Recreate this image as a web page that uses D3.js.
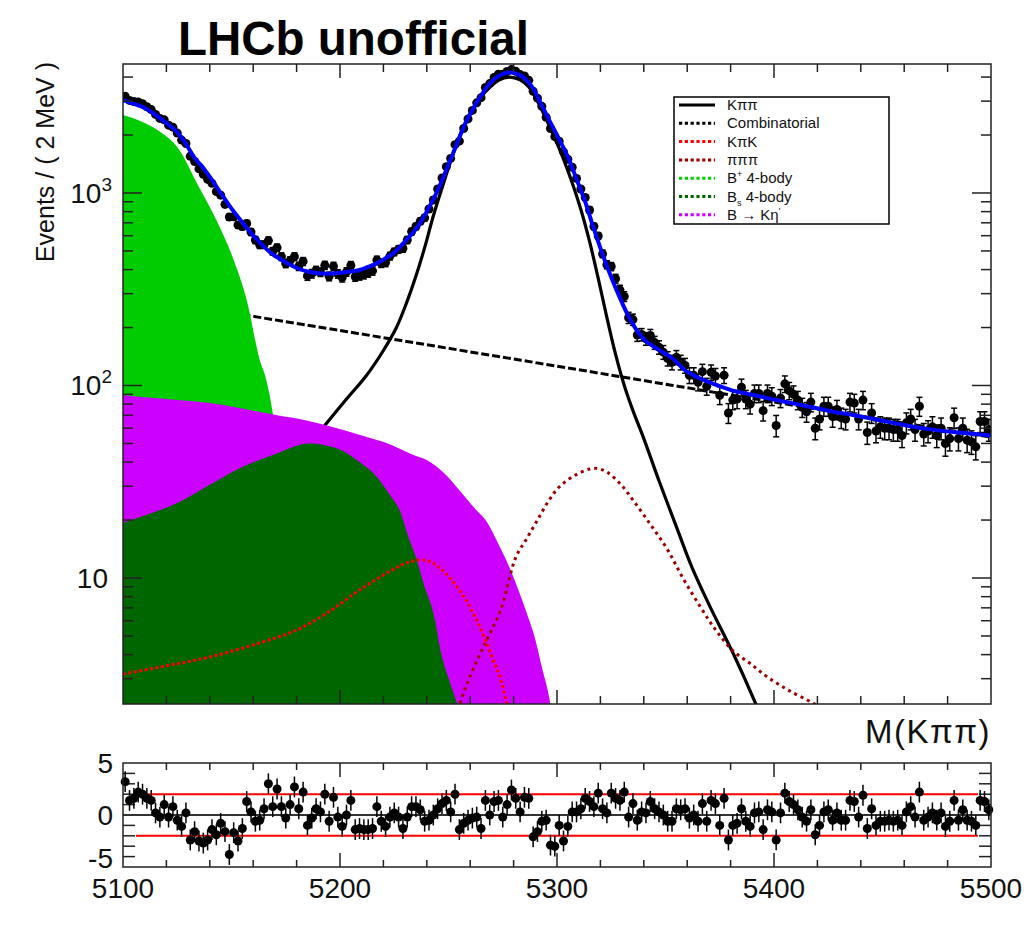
<!DOCTYPE html>
<html>
<head>
<meta charset="utf-8">
<script src="https://cdn.jsdelivr.net/npm/d3@7"></script>
<style>
  body { margin: 0; background: #fff; }
  text { font-family: "Liberation Sans", Arial, Helvetica, sans-serif; }
</style>
</head>
<body>
<div id="my_dataviz"></div>
<script>
// ---- data ----
// histogram: 200 bins of 2 MeV from 5100 to 5500
var binLo = 5100, binWidth = 2;
var counts = [
  3176,3026,2986,2967,2906,2803,2711,2560,2440,2398,
  2250,2197,2047,1882,1808,1552,1458,1335,1250,1176,
  1122,1017,974,872,750,752,682,670,694,627,
  570,538,539,566,498,520,467,430,445,467,
  416,441,371,381,396,388,421,369,416,380,
  364,389,420,367,372,377,385,394,448,431,
  435,470,494,510,515,570,630,670,713,743,
  826,920,1049,1197,1370,1512,1782,1858,2162,2425,
  2684,2939,3126,3533,3700,3981,4140,4137,4275,4376,
  4284,4119,4057,3848,3376,3109,2818,2475,2161,1962,
  1856,1635,1497,1361,1190,1049,948,816,670,598,
  483,424,415,359,314,290,225,220,183,184,
  175,182,167,158,149,138,132,140,132,127,
  113,113,104,118,99,117,112,89,113,72,
  84,85,98,85,80,91,91,74,91,88,
  62,86,102,94,90,84,77,73,82,60,
  67,78,78,69,75,68,67,82,81,67,
  84,57,72,58,61,60,60,59,59,55,
  64,67,59,78,56,58,61,55,60,50,
  53,68,53,60,52,51,48,65,65,59
];
var pulls = [
  3.2,1.4,1.6,2.2,2.0,1.6,1.4,0.2,-0.2,1.0,
  -0.2,0.8,-0.5,-1.1,0.2,-2.4,-1.6,-2.5,-2.7,-2.4,
  -1.4,-1.9,-0.8,-1.6,-3.8,-1.7,-2.5,-1.3,1.3,0.3,
  -0.6,-0.5,0.6,3.0,0.8,2.5,0.8,-0.3,1.0,2.7,
  0.6,2.2,-1.0,-0.3,0.6,0.3,2.0,-0.6,1.7,-0.2,
  -1.1,0.0,1.4,-1.4,-1.3,-1.4,-1.4,-1.3,0.8,-0.6,
  -1.1,-0.2,0.2,-0.2,-1.3,-0.2,0.8,0.8,0.5,-0.6,
  -0.5,0.0,0.6,1.1,1.4,0.3,2.0,-1.4,-0.8,-0.5,
  -0.3,-0.2,-1.3,1.4,0.0,1.3,1.4,-0.2,1.0,2.4,
  1.6,0.3,1.7,1.6,-2.1,-1.6,-0.6,-0.5,-2.9,-3.0,
  -1.0,-2.5,-1.1,0.3,0.3,0.6,1.6,1.3,0.8,2.1,
  0.6,0.2,2.1,1.6,1.4,2.2,-0.2,1.1,-0.5,0.3,
  0.2,1.3,0.6,0.3,0.0,-0.6,-0.6,0.6,0.5,0.6,
  -0.3,0.0,-0.6,1.1,-0.6,1.4,1.1,-1.0,1.6,-2.4,
  -1.0,-0.8,0.6,-0.6,-1.1,0.2,0.3,-1.4,0.5,0.3,
  -2.4,0.2,2.1,1.3,1.0,0.5,-0.2,-0.6,0.5,-1.9,
  -1.0,0.3,0.5,-0.5,0.2,-0.5,-0.5,1.4,1.3,-0.2,
  1.9,-1.3,0.6,-1.0,-0.6,-0.6,-0.5,-0.6,-0.5,-1.0,
  0.3,0.8,-0.2,2.2,-0.5,-0.2,0.2,-0.5,0.2,-1.1,
  -0.6,1.4,-0.5,0.5,-0.5,-0.6,-1.0,1.4,1.3,0.5
];

// fit components, sampled along the mass axis
var totM = [5100,5104,5109,5113,5117,5121,5125,5129,5133,5137,5141,5145,5149,5153,5157,5161,5165,5169,5173,5177,5181,5185,5189,5194,5199,5204,5209,5213,5217,5221,5225,5229,5233,5237,5241,5245,5249,5253,5257,5261,5265,5269,5273,5277,5279,5281,5285,5289,5293,5297,5301,5305,5309,5313,5317,5321,5325,5329,5333,5337,5341,5347,5353,5359,5365,5373,5381,5391,5401,5413,5425,5437,5449,5461,5473,5485,5500];
var totY = [3040,2930,2800,2640,2450,2260,2070,1800,1520,1350,1170,1000,860,750,660,585,525,480,450,424,404,391,384,381,384,390,398,413,431,458,490,545,610,700,840,1030,1320,1700,2200,2700,3200,3700,4050,4210,4220,4180,3950,3500,2850,2320,1900,1540,1180,900,650,480,365,285,228,192,170,153,139,120,110,101,94,89,84,79,74,70,66,62,59,57,55];

var sigM = [5160,5170,5180,5187,5194,5203,5212,5220,5226,5231,5235,5239,5243,5248,5253,5258,5263,5268,5273,5278,5283,5287,5291,5295,5299,5303,5307,5311,5315,5319,5323,5327,5331,5335,5340,5347,5355,5362,5370,5381,5391,5400];
var sigY = [23,30,41,51,64,85,112,152,200,275,370,520,760,1150,1700,2350,2950,3450,3850,4000,3870,3550,3000,2420,1930,1500,1130,820,560,360,225,145,100,74,53,32,18.5,11.5,7.3,4.1,2.3,1.3];

var combM = [5100,5200,5300,5400,5500];
var combY = [295,193,126,82,54];

var bplusM = [5100,5109,5117,5125,5135,5143,5151,5157,5163,5166,5169,5172,5175,5178,5181];
var bplusY = [2540,2337,2080,1734,1074,724,449,278,136,107,72,40,15,4,1];

var ketaM = [5100,5120,5140,5160,5171,5184,5194,5210,5224,5233,5240,5248,5255,5262,5268,5273,5278,5282,5286,5290,5293,5297,5299,5302];
var ketaY = [89,85,81,74,70,66,62,55,49,44,41,35,28.6,23,19.3,15,11.4,8.8,6.6,4.8,3.45,2.2,1.5,1];

var bsM = [5100,5112,5125,5140,5155,5170,5186,5193,5201,5209,5217,5223,5228,5231,5235,5239,5243,5247,5251,5254,5257,5260];
var bsY = [19.3,21.5,24.5,30.5,37.7,44,50,49,46,40,33.5,27,21.8,17,12.8,9,6.6,3.9,2.8,2.2,1.5,1];

var kpkM = [5100,5120,5140,5163,5180,5194,5209,5224,5231,5237,5242,5247,5255,5263,5270,5274,5277,5280];
var kpkY = [3.17,3.5,3.89,4.6,5.37,6.58,8.67,11,12,12.4,12.1,11,8.67,6.05,3.9,3,2.2,1.7];

var pppM = [5250,5255,5260,5266,5274,5281,5286,5291,5296,5301,5308,5315,5319,5323,5329,5335,5343,5351,5358,5366,5373,5381,5389,5397,5407,5418,5422];
var pppY = [1.5,2.2,3.1,4.38,6.8,12.8,16,20,25,29.7,34,36.8,37,35.5,31,25.4,19,14,10,7.1,5.4,4.2,3.6,3.06,2.6,2.24,2.1];

// axis labels
var xTickLabels = ["5100", "5200", "5300", "5400", "5500"];
var yTickVals = [10, 100, 1000];
var yTickLabels = [["10", ""], ["10", "2"], ["10", "3"]];
var pullTickVals = [5, 0, -5];
var pullTickLabels = ["5", "0", "-5"];

var legendLabels = [
  [["Kππ", ""]],
  [["Combinatorial", ""]],
  [["KπK", ""]],
  [["πππ", ""]],
  [["B", ""], ["+", "sup"], [" 4-body", ""]],
  [["B", ""], ["s", "sub"], [" 4-body", ""]],
  [["B → Kη", ""], ["'", "sup"]]
];
var legendColors = ["#000000", "#000000", "#ff0000", "#990000", "#00cc00", "#006600", "#cc00ff"];

// ---- layout ----
var W = 1032, H = 937;
var frame = { left: 123, right: 991, top: 64, bottom: 704 };
var pad = { top: 763, bottom: 867 };

var svg = d3.select("#my_dataviz").append("svg")
  .attr("width", W).attr("height", H);

var x = d3.scaleLinear().domain([5100, 5500]).range([frame.left, frame.right]);
var y = d3.scaleLog().domain([2.216, 4677]).range([frame.bottom, frame.top]);
var yp = d3.scaleLinear().domain([-5, 5]).range([pad.bottom, pad.top]);

function zip(a, b) { return a.map(function (m, i) { return [m, b[i]]; }); }

svg.append("clipPath").attr("id", "clipMain").append("rect")
  .attr("x", frame.left).attr("y", frame.top)
  .attr("width", frame.right - frame.left).attr("height", frame.bottom - frame.top);

var plot = svg.append("g").attr("clip-path", "url(#clipMain)");

var line = d3.line().x(function (d) { return x(d[0]); }).y(function (d) { return y(d[1]); })
  .curve(d3.curveCatmullRom.alpha(0.5));
var area = d3.area().x(function (d) { return x(d[0]); }).y0(frame.bottom).y1(function (d) { return y(d[1]); })
  .curve(d3.curveMonotoneX);

// lines under the filled shapes
plot.append("path").attr("d", line(zip(combM, combY)))
  .style("fill", "none").style("stroke", "#000").style("stroke-width", 3).style("stroke-dasharray", "8,3");
plot.append("path").attr("d", line(zip(sigM, sigY)))
  .style("fill", "none").style("stroke", "#000").style("stroke-width", 3.2);

// filled components
plot.append("path").attr("d", area(zip(bplusM, bplusY))).style("fill", "#00cc00");
plot.append("path").attr("d", area(zip(ketaM, ketaY))).style("fill", "#cc00ff");
plot.append("path").attr("d", area(zip(bsM, bsY))).style("fill", "#006600");

// dotted components
plot.append("path").attr("d", line(zip(kpkM, kpkY)))
  .style("fill", "none").style("stroke", "#ff0000").style("stroke-width", 3).style("stroke-dasharray", "3,2.5");
plot.append("path").attr("d", line(zip(pppM, pppY)))
  .style("fill", "none").style("stroke", "#990000").style("stroke-width", 3).style("stroke-dasharray", "3,4");

// data points with error bars
var pts = counts.map(function (n, i) { return { m: binLo + binWidth * (i + 0.5), n: n }; });
var errs = plot.selectAll("g.err").data(pts).enter().append("g").attr("class", "err");
errs.append("line")
  .attr("x1", function (d) { return x(d.m); }).attr("x2", function (d) { return x(d.m); })
  .attr("y1", function (d) { return y(d.n + Math.sqrt(d.n)); })
  .attr("y2", function (d) { return y(d.n - Math.sqrt(d.n)); })
  .style("stroke", "#000").style("stroke-width", 1.5);
[1, -1].forEach(function (s) {
  errs.append("line")
    .attr("x1", function (d) { return x(d.m) - 3; }).attr("x2", function (d) { return x(d.m) + 3; })
    .attr("y1", function (d) { return y(d.n + s * Math.sqrt(d.n)); })
    .attr("y2", function (d) { return y(d.n + s * Math.sqrt(d.n)); })
    .style("stroke", "#000").style("stroke-width", 1.5);
});
plot.selectAll("circle.pt").data(pts).enter().append("circle").attr("class", "pt")
  .attr("cx", function (d) { return x(d.m); }).attr("cy", function (d) { return y(d.n); })
  .attr("r", 4.5).style("fill", "#000");

// total fit on top
plot.append("path").attr("d", line(zip(totM, totY)))
  .style("fill", "none").style("stroke", "#0000ff").style("stroke-width", 4);

// frame + ticks of main pad
svg.append("rect").attr("x", frame.left).attr("y", frame.top)
  .attr("width", frame.right - frame.left).attr("height", frame.bottom - frame.top)
  .style("fill", "none").style("stroke", "#222").style("stroke-width", 1.5);

var ticks = svg.append("g").style("stroke", "#222").style("stroke-width", 1.5);
var xTicks = d3.range(5120, 5500, 20);
xTicks.forEach(function (v) {
  var L = (v % 100 === 0) ? 14 : 8;
  ticks.append("line").attr("x1", x(v)).attr("x2", x(v)).attr("y1", frame.bottom).attr("y2", frame.bottom - L);
  ticks.append("line").attr("x1", x(v)).attr("x2", x(v)).attr("y1", frame.top).attr("y2", frame.top + L);
  var Lp = (v % 100 === 0) ? 14 : 7;
  ticks.append("line").attr("x1", x(v)).attr("x2", x(v)).attr("y1", pad.bottom).attr("y2", pad.bottom - Lp);
  ticks.append("line").attr("x1", x(v)).attr("x2", x(v)).attr("y1", pad.top).attr("y2", pad.top + Lp);
});
[1, 10, 100, 1000].forEach(function (dec) {
  d3.range(1, 10).forEach(function (k) {
    var v = k * dec;
    if (v < y.domain()[0] || v > y.domain()[1]) return;
    var L = k === 1 ? 19 : 10;
    ticks.append("line").attr("x1", frame.left).attr("x2", frame.left + L).attr("y1", y(v)).attr("y2", y(v));
    ticks.append("line").attr("x1", frame.right).attr("x2", frame.right - L).attr("y1", y(v)).attr("y2", y(v));
  });
});

// main y labels
yTickVals.forEach(function (v, i) {
  var t = svg.append("text").attr("x", yTickLabels[i][1] ? 112 : 108).attr("y", y(v) + 10)
    .attr("text-anchor", "end").style("font-size", "28px").style("fill", "#111")
    .text(yTickLabels[i][0]);
  if (yTickLabels[i][1]) {
    t.append("tspan").attr("dy", -12).style("font-size", "19px").text(yTickLabels[i][1]);
  }
});

svg.append("text").attr("transform", "translate(54,62) rotate(-90)")
  .attr("text-anchor", "end").style("font-size", "25px").style("fill", "#111")
  .text("Events / ( 2 MeV )");

svg.append("text").attr("x", frame.right).attr("y", 743).attr("text-anchor", "end")
  .style("font-size", "33px").style("letter-spacing", "1.5px").style("fill", "#111").text("M(Kππ)");

svg.append("text").attr("x", 178).attr("y", 55)
  .style("font-size", "47.5px").style("font-weight", "bold").style("fill", "#000")
  .text("LHCb unofficial");

// legend
var lg = svg.append("g");
lg.append("rect").attr("x", 674).attr("y", 97).attr("width", 215).attr("height", 127)
  .style("fill", "#fff").style("stroke", "#000").style("stroke-width", 1.5);
legendLabels.forEach(function (parts, i) {
  var ly = 105 + i * 18.3;
  lg.append("line").attr("x1", 679).attr("x2", 715).attr("y1", ly).attr("y2", ly)
    .style("stroke", legendColors[i]).style("stroke-width", 3)
    .style("stroke-dasharray", i === 0 ? null : "3.2,2.6");
  var t = lg.append("text").attr("x", 727).attr("y", ly + 5).style("font-size", "15px").style("fill", "#111");
  var shift = 0;
  parts.forEach(function (p) {
    var ts = t.append("tspan").text(p[0]);
    var want = p[1] === "sup" ? -6 : (p[1] === "sub" ? 4 : 0);
    ts.attr("dy", want - shift);
    if (p[1]) ts.style("font-size", "9px");
    shift = want;
  });
});

// ---- pull pad ----
svg.append("line").attr("x1", frame.left).attr("x2", frame.right).attr("y1", yp(0)).attr("y2", yp(0))
  .style("stroke", "#333").style("stroke-width", 2);
[2, -2].forEach(function (v) {
  svg.append("line").attr("x1", x(5106)).attr("x2", x(5494)).attr("y1", yp(v)).attr("y2", yp(v))
    .style("stroke", "#ff0000").style("stroke-width", 2);
});
var pp = pulls.map(function (p, i) { return { m: binLo + binWidth * (i + 0.5), p: p }; });
svg.selectAll("line.perr").data(pp).enter().append("line").attr("class", "perr")
  .attr("x1", function (d) { return x(d.m); }).attr("x2", function (d) { return x(d.m); })
  .attr("y1", function (d) { return yp(d.p + 1); }).attr("y2", function (d) { return yp(d.p - 1); })
  .style("stroke", "#000").style("stroke-width", 1.5);
svg.selectAll("circle.pp").data(pp).enter().append("circle").attr("class", "pp")
  .attr("cx", function (d) { return x(d.m); }).attr("cy", function (d) { return yp(d.p); })
  .attr("r", 4.5).style("fill", "#000");

svg.append("rect").attr("x", frame.left).attr("y", pad.top)
  .attr("width", frame.right - frame.left).attr("height", pad.bottom - pad.top)
  .style("fill", "none").style("stroke", "#222").style("stroke-width", 1.5);
[-4, -3, -2, -1, 1, 2, 3, 4].forEach(function (v) {
  ticks.append("line").attr("x1", frame.left).attr("x2", frame.left + 12).attr("y1", yp(v)).attr("y2", yp(v));
  ticks.append("line").attr("x1", frame.right).attr("x2", frame.right - 12).attr("y1", yp(v)).attr("y2", yp(v));
});

pullTickVals.forEach(function (v, i) {
  svg.append("text").attr("x", 113).attr("y", yp(v) + (v < 0 ? 1 : 10)).attr("text-anchor", "end")
    .style("font-size", "28px").style("fill", "#111").text(pullTickLabels[i]);
});
xTickLabels.forEach(function (s) {
  svg.append("text").attr("x", x(+s)).attr("y", 898).attr("text-anchor", "middle")
    .style("font-size", "28px").style("fill", "#111").text(s);
});
</script>
</body>
</html>
